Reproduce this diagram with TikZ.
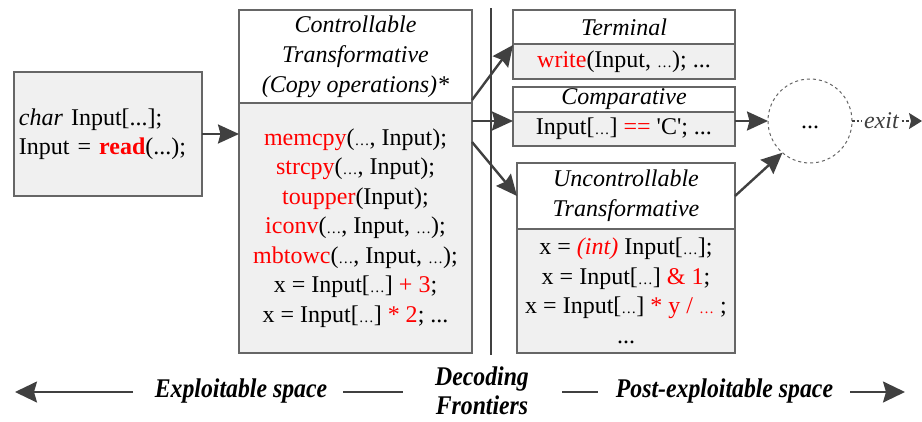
\documentclass[tikz,border=0pt]{standalone}
\usepackage{fontspec}
\setmainfont{Liberation Serif}
\newfontfamily\condfont[FakeStretch=0.88]{Liberation Serif}
\usetikzlibrary{arrows.meta,calc}
\definecolor{bord}{HTML}{666666}
\definecolor{boxfill}{HTML}{F0F0F0}
\definecolor{arr}{HTML}{404040}
\definecolor{rd}{HTML}{FF0000}
\newcommand{\sd}{{\fontsize{15}{15}\selectfont …}}
\newcommand{\R}[1]{\textcolor{rd}{#1}}
\newcommand{\sq}{\textquotesingle}
\begin{document}
\begin{tikzpicture}[x=1pt,y=-1pt,
  every node/.style={inner sep=0pt, outer sep=0pt},
  hdr/.style={draw=bord, line width=1.2pt, fill=white, align=center,
    font=\fontsize{24}{30}\selectfont\itshape},
  bodybox/.style={draw=bord, line width=1.2pt, fill=boxfill, align=center,
    font=\fontsize{24}{29.5}\selectfont},
  conn/.style={draw=arr, line width=2.4pt, -{Stealth[length=21pt,width=19pt,inset=2.5pt]}},
  barr/.style={draw=arr, line width=2pt, -{Stealth[length=22pt,width=21pt,inset=3pt]}},
  bline/.style={draw=arr, line width=2pt},
  blab/.style={font=\condfont\fontsize{27}{29}\selectfont\bfseries\itshape, align=center}
]
\useasboundingbox (0,0) rectangle (922,421);

% source box
\node[bodybox, minimum width=188, minimum height=124, anchor=north west,
  text width=178, align=left] (src) at (14,72)
  {\textit{char} Input[...];\\Input = \R{\textbf{read}}(...);};

% controllable transformative
\node[hdr, minimum width=233, minimum height=93, anchor=north west] (cth) at (239,10)
  {Controllable\\Transformative\\(Copy operations)*};
\node[bodybox, minimum width=233, minimum height=250, anchor=north] (ctb) at (cth.south)
  {\R{memcpy}(\sd, Input);\\
   \R{strcpy}(\sd, Input);\\
   \R{toupper}(Input);\\
   \R{iconv}(\sd, Input, \sd);\\
   \R{mbtowc}(\sd, Input, \sd);\\
   x = Input[\sd] \R{+ 3};\\
   x = Input[\sd] \R{* 2}; ...};

% decoding frontier line
\coordinate (vt) at (491,8);
\coordinate (vb) at (491,355);
\draw[arr, line width=1.5pt] (vt) -- (vb);

% terminal
\node[hdr, minimum width=222, minimum height=34, anchor=north west] (tmh) at (513,10) {Terminal};
\node[bodybox, minimum width=222, minimum height=35, anchor=north] (tmb) at (tmh.south)
  {\R{write}(Input, \sd); ...};

% comparative
\node[hdr, minimum width=222, minimum height=25, anchor=north west] (cmh) at (513,87) {Comparative};
\node[bodybox, minimum width=222, minimum height=34, anchor=north] (cmb) at (cmh.south)
  {Input[\sd] \R{==} \sq C\sq; ...};

% uncontrollable
\node[hdr, minimum width=218, minimum height=66, anchor=north west] (unh) at (517,163)
  {Uncontrollable\\Transformative};
\node[bodybox, minimum width=218, minimum height=124, anchor=north] (unb) at (unh.south)
  {x = \R{\textit{(int)}} Input[\sd];\\
   x = Input[\sd] \R{\& 1};\\
   x = Input[\sd] \R{* y / \sd} ;\\
   ...};

% circle
\node[draw=bord, dashed, circle, line width=1pt, minimum size=84] (circ) at (810,121) {};
\node[font=\fontsize{24}{29.5}\selectfont] (circtxt) at ($(circ.center)+(0,6)$) {...};

% connectors
\coordinate (midy) at (0,121);
\draw[conn] (src.east) -- (src.east -| ctb.west);
\draw[conn] ($(ctb.north east)+(0,-3)$) -- ($(tmb.north west)+(0,1)$);
\draw[conn] (midy -| ctb.east) -- (midy -| cmb.west);
\draw[conn] ($(ctb.north east)+(0,39)$) -- (unh.west);
\draw[conn] (midy -| cmb.east) -- (circ.west);
\draw[conn] (unh.east) -- (circ.229);

% exit
\coordinate (exitend) at (922,121);
\draw[arr, line width=1.3pt, dash pattern=on 2.5pt off 2pt,
  -{Stealth[length=13pt,width=16pt,inset=2pt]}] (circ.east) --
  node[fill=white, inner xsep=2pt, font=\fontsize{24}{29.5}\selectfont\itshape, pos=0.42] (exitlab) {exit} (exitend);

% bottom legend
\node[blab] (exl) at (241,391) {Exploitable space};
\node[blab] (dec) at (482,391) {Decoding\\Frontiers};
\node[blab] (post) at (724.5,391) {Post-exploitable space};
\coordinate (la) at (15,392);
\coordinate (lb) at (133,392);
\coordinate (m1) at (343,392);
\coordinate (m2) at (403,392);
\coordinate (m3) at (562,392);
\coordinate (m4) at (598,392);
\coordinate (ra) at (850,392);
\coordinate (rb) at (905,392);
\draw[barr] (lb) -- (la);
\draw[bline] (m1) -- (m2);
\draw[bline] (m3) -- (m4);
\draw[barr] (ra) -- (rb);
\end{tikzpicture}
\end{document}
